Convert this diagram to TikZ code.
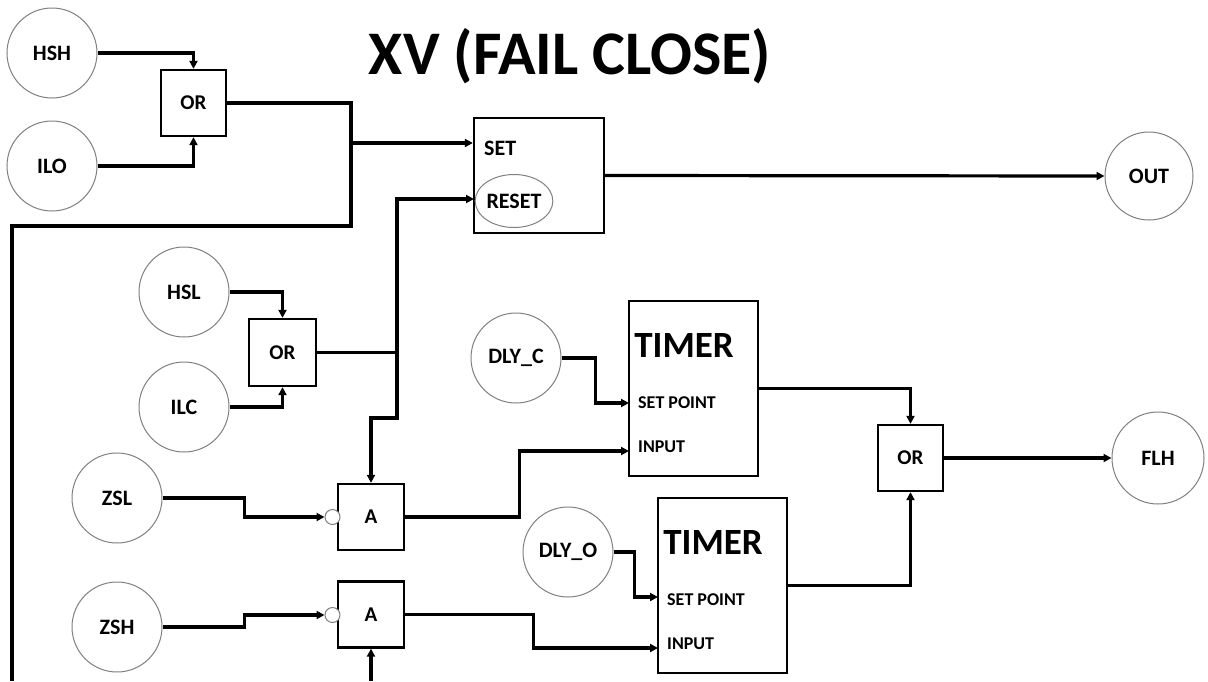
\documentclass[tikz,border=0pt]{standalone}
\usepackage{fontspec}
\setmainfont{Carlito}
\usetikzlibrary{arrows.meta,shapes.geometric}
\tikzset{
  sig/.style={draw=black!50, line width=1pt, circle, minimum size=90pt, inner sep=0pt, font=\bfseries\fontsize{22}{24}\selectfont},
  gate/.style={draw=black, line width=2.3pt, rectangle, minimum width=65pt, minimum height=66pt, inner sep=0pt, font=\bfseries\fontsize{21}{23}\selectfont},
  bigbox/.style={draw=black, line width=2.3pt, rectangle, inner sep=0pt},
  lbl/.style={inner sep=0pt, font=\bfseries\fontsize{22}{24}\selectfont},
  plbl/.style={inner sep=0pt, anchor=west, font=\bfseries\fontsize{18}{20}\selectfont},
  tlbl/.style={inner sep=0pt, font=\bfseries\fontsize{37}{40}\selectfont},
  bub/.style={draw=black!50, line width=1pt, fill=white, circle, minimum size=15pt, inner sep=0pt},
  wire/.style={line width=3.2pt, line join=miter},
  arr/.style={wire, -{Triangle[length=8pt,width=8pt]}},
}
\begin{document}
\begin{tikzpicture}[x=1pt,y=-1pt]
\useasboundingbox[fill=white] (0,0) rectangle (1208,681);
% title
\node[inner sep=0pt, font=\bfseries\fontsize{62}{66}\selectfont] (title) at (570,56) {XV (FAIL CLOSE)};
% inputs top
\node[sig] (hsh) at (52,53) {HSH};
\node[sig] (ilo) at (52,166) {ILO};
\node[gate] (or1) at (193.5,103) {OR};
% set/reset
\node[bigbox, minimum width=130pt, minimum height=115pt] (sr) at (539,175.5) {};
\node[lbl, anchor=west] (set) at (484,148) {SET};
\node[draw=black!50, line width=1pt, ellipse, minimum width=70pt, minimum height=53pt, inner sep=0pt, font=\bfseries\fontsize{22}{24}\selectfont] (reset) at (514,201) {RESET};
\node[sig, minimum size=88pt] (out) at (1149,176) {OUT};
% middle inputs
\node[sig] (hsl) at (184,292) {HSL};
\node[sig] (ilc) at (184,407) {ILC};
\node[gate, minimum width=67pt, minimum height=67pt] (or2) at (282.5,352.5) {OR};
% and gates
\node[sig] (zsl) at (117,498) {ZSL};
\node[sig] (zsh) at (117,627) {ZSH};
\node[gate, minimum width=66pt] (a1) at (371,517) {A};
\node[gate, minimum width=66pt] (a2) at (371,614.5) {A};
\node[bub] (b1) at (332.5,517) {};
\node[bub] (b2) at (332.5,615) {};
% timers
\node[sig] (dlyc) at (516,358) {DLY\_C};
\node[bigbox, minimum width=129pt, minimum height=175pt] (t1) at (693.5,388.5) {};
\node[tlbl] (t1t) at (684,345) {TIMER};
\node[plbl] (t1s) at (638,403) {SET POINT};
\node[plbl] (t1i) at (638,447) {INPUT};
\node[sig] (dlyo) at (568,552) {DLY\_O};
\node[bigbox, minimum width=129pt, minimum height=175pt] (t2) at (722.5,585.5) {};
\node[tlbl] (t2t) at (713,542) {TIMER};
\node[plbl] (t2s) at (667,600) {SET POINT};
\node[plbl] (t2i) at (667,644) {INPUT};
% output or
\node[gate] (or3) at (910.5,458) {OR};
\node[sig, minimum size=92pt] (flh) at (1158,458) {FLH};
% helper coordinates
\coordinate (j1) at (351,143);
\coordinate (c1) at (351,226);
\coordinate (lend) at (12,681);
\coordinate (j2) at (397,352.5);
\coordinate (c2) at (397,418);
\coordinate (rin) at (474,199);
\coordinate (a2in) at (371,681);
\coordinate (t1sp) at (629,403);
\coordinate (t1in) at (629,451);
\coordinate (t2sp) at (658,597);
\coordinate (t2in) at (658,648);
% connectors
\draw[arr] (hsh.east) -| (or1.north);
\draw[arr] (ilo.east) -| (or1.south);
\draw[wire] (or1.east) -| (j1);
\draw[arr] (j1) -- (sr.west |- j1);
\draw[wire] (j1) -- (c1) -| (lend);
\draw[arr] (sr.east) -- (out.west);
\draw[arr] (hsl.east) -| (or2.north);
\draw[arr] (ilc.east) -| (or2.south);
\draw[wire] (or2.east) -- (j2);
\draw[arr] (j2) |- (rin);
\draw[arr] (j2) -- (c2) -| (a1.north);
\draw[arr] (zsl.east) -- ++(82,0) |- (b1.west);
\draw[arr] (zsh.east) -- ++(82,0) |- (b2.west);
\draw[arr] (a2in) -- (a2.south);
\draw[arr] (a1.east) -- ++(114,0) |- (t1in);
\draw[arr] (a2.east) -- ++(128,0) |- (t2in);
\draw[arr] (dlyc.east) -- ++(34,0) |- (t1sp);
\draw[arr] (dlyo.east) -- ++(21,0) |- (t2sp);
\draw[arr] (t1.east) -| (or3.north);
\draw[arr] (t2.east) -| (or3.south);
\draw[arr] (or3.east) -- (flh.west);
\end{tikzpicture}
\end{document}
